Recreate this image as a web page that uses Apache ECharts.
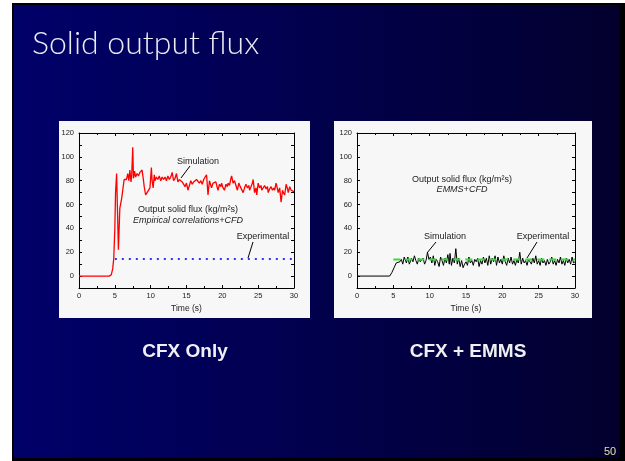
<!DOCTYPE html>
<html><head><meta charset="utf-8">
<script src="https://cdn.jsdelivr.net/npm/echarts@6/dist/echarts.min.js"></script>
<style>html,body{margin:0;padding:0;background:#fff;}#c{width:625px;height:461px;}</style>
</head><body><div id="c"></div>
<script>
// Data
const simLeft = [[0,0],[4.2,0],[4.5,1],[4.7,6],[4.85,15],[5.0,40],[5.1,70],[5.25,86],[5.35,60],[5.5,22],[5.6,40],[5.7,57],[5.95,65],[6.3,81],[6.6,81],[6.7,83],[6.8,86],[6.95,80],[7.1,89],[7.25,79],[7.35,84],[7.5,108],[7.6,82],[7.75,88],[7.9,83],[8.1,86],[8.3,84],[8.5,87],[8.8,89],[9.0,80],[9.1,75],[9.3,68],[9.5,70],[9.7,71],[9.9,74],[10.1,91],[10.2,80],[10.35,74],[10.5,85],[10.6,80],[10.8,83],[11.0,81],[11.2,84],[11.4,80],[11.6,83],[11.8,81],[12.0,83],[12.2,80],[12.4,84],[12.6,81],[12.8,83],[13.0,87],[13.2,80],[13.4,82],[13.6,86],[13.8,79],[14.0,81],[14.2,82],[14.4,79],[14.6,78],[14.8,75],[15.0,78],[15.2,72],[15.4,76],[15.6,80],[15.8,77],[16.0,79],[16.2,78],[16.4,81],[16.6,82],[16.8,78],[17.0,80],[17.2,77],[17.4,81],[17.6,83],[17.8,85],[18.0,68],[18.2,80],[18.4,76],[18.5,74],[18.7,78],[18.9,77],[19.1,79],[19.3,74],[19.4,72],[19.6,77],[19.8,75],[19.9,78],[20.1,74],[20.3,72],[20.5,77],[20.7,75],[20.8,78],[21.0,76],[21.2,82],[21.3,84],[21.5,78],[21.7,80],[21.9,76],[22.1,72],[22.3,78],[22.5,75],[22.7,76],[22.9,70],[23.1,74],[23.3,77],[23.5,74],[23.7,76],[23.8,72],[24.0,75],[24.2,78],[24.3,81],[24.5,70],[24.7,74],[24.8,68],[25.0,78],[25.2,74],[25.4,76],[25.5,72],[25.7,74],[25.9,76],[26.1,73],[26.3,75],[26.4,70],[26.6,73],[26.8,75],[27.0,72],[27.2,74],[27.3,72],[27.5,78],[27.7,73],[27.8,70],[28.0,74],[28.2,62],[28.4,72],[28.5,70],[28.7,68],[28.9,77],[29.1,73],[29.2,70],[29.4,75],[29.6,72],[29.7,73],[29.9,71],[30,71]];
const expLeft = [[5,14.3],[30,14.3]];
const simRight = [[0,0],[4.5,0],[4.8,3],[5.1,7],[5.4,11],[5.6,12],[5.9,12],[6.1,14],[6.3,10],[6.5,16],[6.6,17],[6.8,11],[7.0,16],[7.2,10],[7.3,9],[7.5,15],[7.7,12],[7.9,17],[8.1,13],[8.3,10],[8.5,15],[8.7,12],[8.9,11],[9.1,15],[9.3,10],[9.5,13],[9.7,20],[9.9,14],[10.1,16],[10.3,11],[10.5,17],[10.7,9],[10.9,14],[11.1,12],[11.3,8],[11.5,16],[11.7,13],[11.9,9],[12.1,15],[12.3,11],[12.5,18],[12.7,10],[12.8,19],[13.0,9],[13.2,15],[13.4,11],[13.6,23],[13.8,10],[14.0,15],[14.2,8],[14.4,13],[14.6,7],[14.8,10],[15.0,12],[15.2,9],[15.4,16],[15.6,11],[15.8,13],[16.0,9],[16.2,14],[16.4,12],[16.6,15],[16.8,8],[17.0,13],[17.2,10],[17.4,16],[17.6,11],[17.8,15],[18.0,9],[18.2,17],[18.4,10],[18.6,15],[18.8,12],[19.0,17],[19.2,9],[19.4,16],[19.6,11],[19.8,14],[20.0,10],[20.2,17],[20.4,12],[20.6,9],[20.8,15],[21.0,11],[21.2,16],[21.4,10],[21.6,13],[21.8,9],[22.0,14],[22.2,11],[22.4,20],[22.6,10],[22.8,15],[23.0,11],[23.2,13],[23.4,9],[23.6,14],[23.8,12],[24.0,10],[24.2,15],[24.4,11],[24.6,17],[24.8,10],[25.0,13],[25.2,9],[25.4,15],[25.6,11],[25.8,13],[26.0,9],[26.2,14],[26.4,10],[26.6,12],[26.8,16],[27.0,10],[27.2,13],[27.4,9],[27.6,14],[27.8,11],[28.0,16],[28.2,10],[28.4,13],[28.6,9],[28.8,15],[29.0,11],[29.2,14],[29.4,10],[29.6,16],[29.8,11],[30,12]];
const expRight = [[5,14],[30,14]];
const xTickLabels = [0,5,10,15,20,25,30];
const yTickLabels = [0,20,40,60,80,100,120];

const chart = echarts.init(document.getElementById('c'), null, {renderer:'canvas'});
const grids = [
  {left:79, top:133, width:215, height:155},
  {left:357, top:133, width:218, height:155}
];
const lblStyle = {fontFamily:'Liberation Sans, Arial', fontSize:7.5, color:'#222'};
const xAxes = [], yAxes = [];
grids.forEach((g,i)=>{
  const base = {type:'value', gridIndex:i, min:0, max:30, interval:5,
    axisLine:{show:true, onZero:false, lineStyle:{color:'#000', width:1}},
    axisTick:{show:true, inside:true, length:3, lineStyle:{color:'#000'}},
    minorTick:{show:true, splitNumber:2, length:2, lineStyle:{color:'#000'}},
    splitLine:{show:false}};
  xAxes.push(Object.assign({}, base, {position:'bottom',
    axisLabel:{show:true, margin:4, ...lblStyle, formatter:v=>xTickLabels.includes(v)?String(v):''},
    name:'Time (s)', nameLocation:'middle', nameGap:16,
    nameTextStyle:{fontFamily:'Liberation Sans, Arial', fontSize:8.5, color:'#222'}}));
  xAxes.push(Object.assign({}, base, {position:'top', axisLabel:{show:false}}));
  const ybase = {type:'value', gridIndex:i, min:-10, max:120, interval:10,
    axisLine:{show:true, onZero:false, lineStyle:{color:'#000', width:1}},
    axisTick:{show:true, inside:true, length:3, lineStyle:{color:'#000'}},
    splitLine:{show:false}};
  yAxes.push(Object.assign({}, ybase, {position:'left',
    axisLabel:{show:true, margin:5, ...lblStyle, formatter:v=>yTickLabels.includes(v)?String(v):''}}));
  yAxes.push(Object.assign({}, ybase, {position:'right', axisLabel:{show:false}}));
});

const txt = (x,y,t,o)=>Object.assign({type:'text', x:x, y:y, z:100, style:Object.assign({text:t, fill:'#222', fontFamily:'Liberation Sans, Arial', fontSize:9, align:'center', verticalAlign:'middle'}, o||{})});
const ln = (x1,y1,x2,y2)=>({type:'line', z:100, shape:{x1:x1,y1:y1,x2:x2,y2:y2}, style:{stroke:'#000', lineWidth:1}});

chart.setOption({
  animation:false,
  graphic:[
    {type:'rect', z:-10, shape:{x:12, y:3, width:613, height:458}, style:{fill:'#000'}},
    {type:'rect', z:-9, shape:{x:14, y:5, width:606, height:453},
      style:{fill:new echarts.graphic.LinearGradient(0,0,1,0,[{offset:0,color:'#00006a'},{offset:1,color:'#03002e'}])}},
    {type:'rect', z:-8, shape:{x:59, y:121, width:251, height:197}, style:{fill:'#f7f7f7'}},
    {type:'rect', z:-8, shape:{x:334, y:121, width:258, height:197}, style:{fill:'#f7f7f7'}},
    txt(32, 44, 'Solid output flux', {fill:'#ececf4', fontFamily:'Lato', fontWeight:300, fontSize:32, align:'left'}),
    txt(185, 352, 'CFX Only', {fill:'#f0f0f4', fontWeight:'bold', fontSize:19}),
    txt(468, 352, 'CFX + EMMS', {fill:'#f0f0f4', fontWeight:'bold', fontSize:19}),
    txt(610, 452, '50', {fill:'#e0e0a0', fontSize:11}),
    // left annotations
    txt(198, 162, 'Simulation'),
    ln(190, 166, 181, 178),
    txt(188, 210, 'Output solid flux (kg/m²s)'),
    txt(188, 220, 'Empirical correlations+CFD', {fontStyle:'italic'}),
    txt(263, 237, 'Experimental'),
    ln(253, 242, 248, 258),
    // right annotations
    txt(462, 180, 'Output solid flux (kg/m²s)'),
    txt(462, 189, 'EMMS+CFD', {fontStyle:'italic'}),
    txt(445, 237, 'Simulation'),
    ln(436, 242, 427, 253),
    txt(543, 237, 'Experimental'),
    ln(537, 242, 527, 258)
  ],
  grid:grids,
  xAxis:xAxes,
  yAxis:yAxes,
  series:[
    {type:'line', xAxisIndex:0, yAxisIndex:0, data:expLeft, symbol:'none',
      lineStyle:{color:'#3333ff', width:2, type:[2,5]}},
    {type:'line', xAxisIndex:0, yAxisIndex:0, data:simLeft, symbol:'none',
      lineStyle:{color:'#ff0000', width:1.3}},
    {type:'line', xAxisIndex:2, yAxisIndex:2, data:simRight, symbol:'none',
      lineStyle:{color:'#000', width:1}},
    {type:'line', xAxisIndex:2, yAxisIndex:2, data:expRight, symbol:'none',
      lineStyle:{color:'#33dd33', width:2, type:[7,5]}}
  ]
});
</script></body></html>
